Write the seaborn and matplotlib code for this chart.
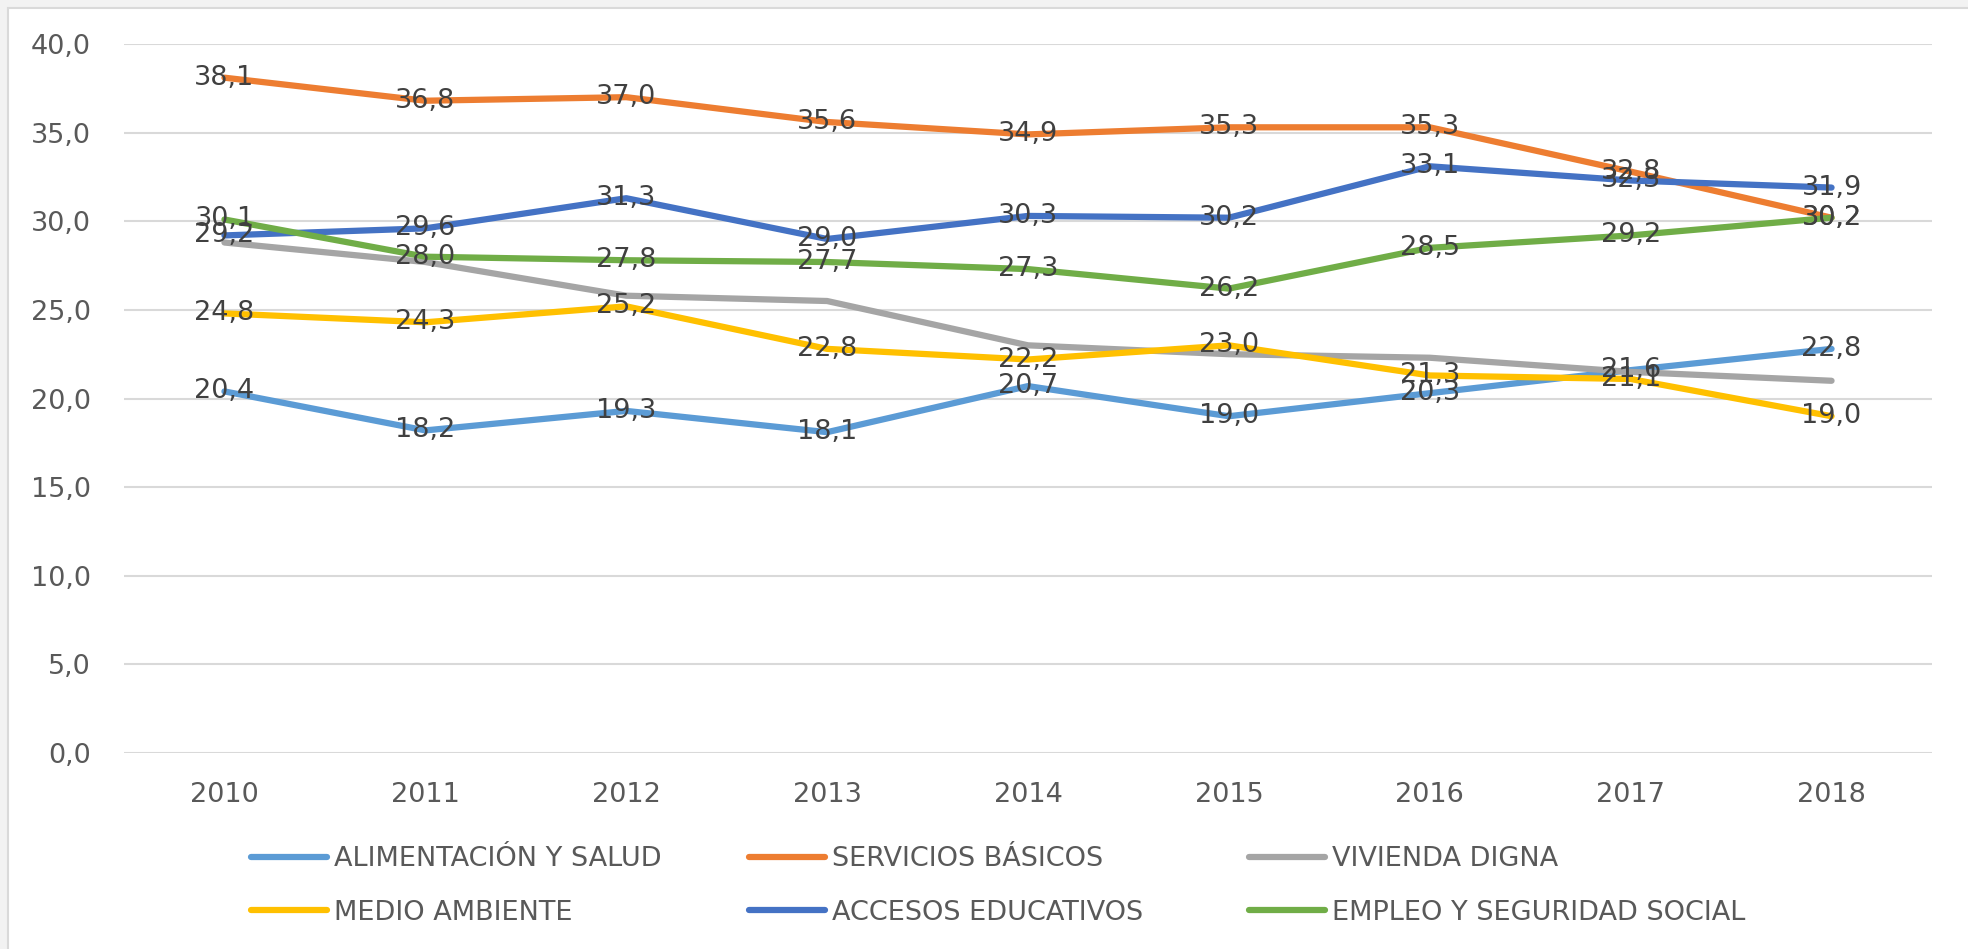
import matplotlib
matplotlib.use("Agg")
import matplotlib.pyplot as plt
from matplotlib.patches import Rectangle
import seaborn as sns
import pandas as pd

# ---- data ----
years = [2010, 2011, 2012, 2013, 2014, 2015, 2016, 2017, 2018]
alimentacion = [20.4, 18.2, 19.3, 18.1, 20.7, 19.0, 20.3, 21.6, 22.8]
servicios = [38.1, 36.8, 37.0, 35.6, 34.9, 35.3, 35.3, 32.8, 30.2]
vivienda = [28.8, 27.7, 25.8, 25.5, 23.0, 22.5, 22.3, 21.5, 21.0]
medio = [24.8, 24.3, 25.2, 22.8, 22.2, 23.0, 21.3, 21.1, 19.0]
accesos = [29.2, 29.6, 31.3, 29.0, 30.3, 30.2, 33.1, 32.3, 31.9]
empleo = [30.1, 28.0, 27.8, 27.7, 27.3, 26.2, 28.5, 29.2, 30.2]

series_names = ["ALIMENTACIÓN Y SALUD", "SERVICIOS BÁSICOS", "VIVIENDA DIGNA",
                "MEDIO AMBIENTE", "ACCESOS EDUCATIVOS", "EMPLEO Y SEGURIDAD SOCIAL"]
series_values = [alimentacion, servicios, vivienda, medio, accesos, empleo]
series_colors = ["#5B9BD5", "#ED7D31", "#A5A5A5", "#FFC000", "#4472C4", "#70AD47"]
labelled = [True, True, False, True, True, True]
yticks = [0, 5, 10, 15, 20, 25, 30, 35, 40]

rows = []
for name, vals in zip(series_names, series_values):
    for y, v in zip(years, vals):
        rows.append({"year": y, "value": v, "serie": name})
df = pd.DataFrame(rows)

sns.set_style("white")
plt.rcParams["font.family"] = ["DejaVu Sans"]

FS = 19.5
W, H = 1968, 949
fig = plt.figure(figsize=(W / 100, H / 100), dpi=100)
fig.patch.set_facecolor("#f2f2f2")
fig.add_artist(Rectangle((7.5 / W, -0.05), 1.1, (H - 7.5) / H + 0.05,
                         transform=fig.transFigure, facecolor="white",
                         edgecolor="#d9d9d9", linewidth=1.5, zorder=-5))

ax = fig.add_axes([124 / W, (H - 753) / H, (1932 - 124) / W, (753 - 44) / H])
ax.set_facecolor("none")

sns.lineplot(data=df, x="year", y="value", hue="serie", hue_order=series_names,
             palette=series_colors, linewidth=4.5, legend=False, ax=ax,
             solid_capstyle="round")

for name, vals, show in zip(series_names, series_values, labelled):
    if not show:
        continue
    for y, v in zip(years, vals):
        ax.text(y, v, f"{v:.1f}".replace(".", ","), ha="center", va="center",
                fontsize=FS, color="#404040", zorder=10)

ax.set_xlim(years[0] - 0.5, years[-1] + 0.5)
ax.set_ylim(0, 40)
ax.set_yticks(yticks)
ax.set_yticklabels([f"{t:.1f}".replace(".", ",") for t in yticks])
ax.set_xticks(years)
ax.set_xticklabels([str(y) for y in years])
ax.tick_params(axis="both", length=0, labelsize=FS, labelcolor="#595959")
ax.tick_params(axis="y", pad=24)
ax.tick_params(axis="x", pad=21)
ax.grid(axis="y", color="#d9d9d9", linewidth=1.5)
ax.set_axisbelow(True)
ax.set_xlabel("")
ax.set_ylabel("")
for s in ax.spines.values():
    s.set_visible(False)

lines = ax.get_lines()[:len(series_names)]
col_x = [251, 749, 1249]
col_members = [[0, 3], [1, 4], [2, 5]]
for cx, members in zip(col_x, col_members):
    fig.legend([lines[i] for i in members], [series_names[i] for i in members],
               loc="upper left", bbox_to_anchor=(cx / W, (H - 846) / H),
               frameon=False, fontsize=FS, handlelength=2.8,
               handletextpad=0.26, labelspacing=1.03, borderpad=0,
               borderaxespad=0, labelcolor="#595959")

fig.savefig("out.png", dpi=100, facecolor=fig.get_facecolor())
